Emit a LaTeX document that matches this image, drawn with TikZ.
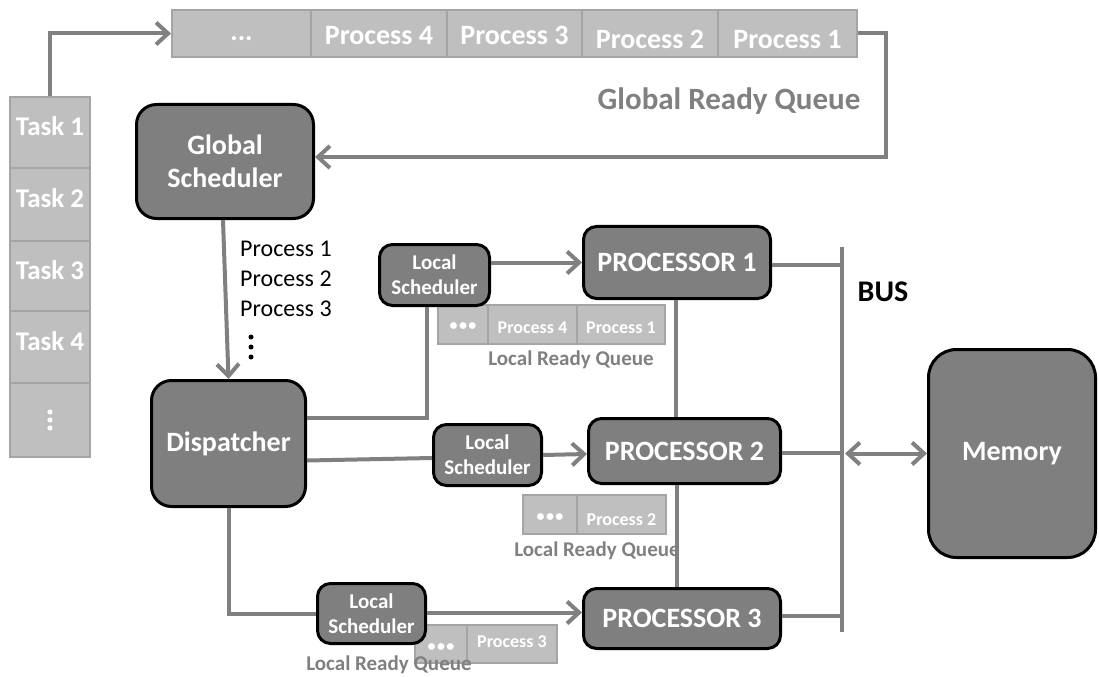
\documentclass[tikz,border=0pt]{standalone}
\usepackage{fontspec}
\setmainfont{Carlito}
\usetikzlibrary{arrows.meta,calc}
\definecolor{boxgray}{HTML}{7F7F7F}
\definecolor{cellgray}{HTML}{BFBFBF}
\definecolor{cellline}{HTML}{A5A5A5}
\definecolor{linegray}{HTML}{808080}
\newcommand\fsz[2]{\fontsize{#1bp}{#2bp}\selectfont}
\newcommand\bullets{•\kern1.5bp•\kern1.5bp•}
\tikzset{
  darkbox/.style={draw=black, line width=3bp, fill=boxgray, text=white,
    font=\bfseries, align=center, inner sep=0pt, rounded corners=13bp},
  cell/.style={draw=cellline, line width=2bp, fill=cellgray, text=white,
    font=\bfseries, inner sep=0pt},
  % text height/depth pairs that move the text inside a cell
  tshift/.style 2 args={text height=#1bp, text depth=#2bp},
  conn/.style={draw=linegray, line width=4bp},
  barb/.tip={Straight Barb[length=12bp, width=22bp]},
  arr/.style={conn, -barb},
  dblarr/.style={conn, barb-barb},
  qlabel/.style={text=linegray, font=\bfseries, inner sep=0pt},
}
\begin{document}
\begin{tikzpicture}[x=1bp, y=-1bp]
\useasboundingbox (0,0) rectangle (1099,677);

% task column
\begin{scope}[every node/.style={cell, minimum width=80bp, font=\bfseries\fsz{27}{32}, tshift={17}{10}}]
  \node[minimum height=71bp] (t1) at (50,132.5) {Task 1};
  \node[minimum height=73bp] (t2) at (50,204.5) {Task 2};
  \node[minimum height=70bp] (t3) at (50,276) {Task 3};
  \node[minimum height=72bp] (t4) at (50,347) {Task 4};
  \node[minimum height=74bp] (t5) at (50,420) {};
\end{scope}
\fill[white] (t5.center) circle (2.6) ++(0,-8) circle (2.6) ++(0,16) circle (2.6);

% global ready queue
\begin{scope}[every node/.style={cell, minimum height=47bp, font=\bfseries\fsz{28}{32}}]
  \node[minimum width=139bp, tshift={14}{0}] (gq0) at (241.5,33.5) {...};
  \node[minimum width=136bp, tshift={22}{0}] (gq1) at (379,33.5) {Process 4};
  \node[minimum width=135bp, tshift={22}{0}] (gq2) at (514.5,33.5) {Process 3};
  \node[minimum width=136bp, tshift={31}{0}] (gq3) at (650,33.5) {Process 2};
  \node[minimum width=139bp, tshift={31}{0}] (gq4) at (787.5,33.5) {Process 1};
\end{scope}
\node[qlabel, font=\bfseries\fsz{31}{36}] (gqlabel) at (729,101) {Global Ready Queue};

% local ready queues
\begin{scope}[every node/.style={cell, font=\bfseries\fsz{18}{21}}]
  \node[minimum width=50bp, minimum height=39bp, tshift={12}{0}, font=\bfseries\fsz{16}{20}] (lq1a) at (463,324.5) {\bullets};
  \node[minimum width=89bp, minimum height=39bp, tshift={18}{0}] (lq1b) at (532.5,324.5) {Process 4};
  \node[minimum width=88bp, minimum height=39bp, tshift={18}{0}] (lq1c) at (621,324.5) {Process 1};
  \node[minimum width=54bp, minimum height=39bp, tshift={13}{0}, font=\bfseries\fsz{16}{20}] (lq2a) at (550,514.5) {\bullets};
  \node[minimum width=89bp, minimum height=39bp, tshift={21}{0}] (lq2b) at (621.5,514.5) {Process 2};
  \node[minimum width=52bp, minimum height=38bp, tshift={15}{0}, font=\bfseries\fsz{16}{20}] (lq3a) at (441,644) {\bullets};
  \node[minimum width=90bp, minimum height=38bp, tshift={6}{0}] (lq3b) at (512,644) {Process 3};
\end{scope}
\node[qlabel, font=\bfseries\fsz{21}{24}] (lql1) at (571,360) {Local Ready Queue};
\node[qlabel, font=\bfseries\fsz{21}{24}] (lql2) at (597,551) {Local Ready Queue};
\node[qlabel, font=\bfseries\fsz{21}{24}] (lql3) at (389,665) {Local Ready Queue};

% schedulers, dispatcher, processors, memory
\node[darkbox, rounded corners=20bp, minimum width=177bp, minimum height=114bp, font=\bfseries\fsz{28}{33}] (gs) at (225,161.5) {Global\\Scheduler};
\node[darkbox, rounded corners=20bp, minimum width=154bp, minimum height=126bp, font=\bfseries\fsz{28}{33}] (disp) at (228.5,443.5) {Dispatcher};
\node[darkbox, minimum width=110bp, minimum height=61bp, font=\bfseries\fsz{21}{25}] (ls1) at (434.5,275) {Local\\Scheduler};
\node[darkbox, minimum width=108bp, minimum height=61bp, font=\bfseries\fsz{21}{25}] (ls2) at (487.5,455) {Local\\Scheduler};
\node[darkbox, minimum width=108bp, minimum height=60bp, font=\bfseries\fsz{21}{25}] (ls3) at (371.5,613.5) {Local\\Scheduler};
\node[darkbox, minimum width=187bp, minimum height=72bp, font=\bfseries\fsz{28}{33}] (p1) at (677,262.5) {PROCESSOR 1};
\node[darkbox, minimum width=192bp, minimum height=65bp, font=\bfseries\fsz{28}{33}] (p2) at (684.5,451) {PROCESSOR 2};
\node[darkbox, minimum width=197bp, minimum height=60bp, font=\bfseries\fsz{28}{33}] (p3) at (682,618.5) {PROCESSOR 3};
\node[darkbox, rounded corners=28bp, minimum width=167bp, minimum height=208bp, font=\bfseries\fsz{28}{33}] (mem) at (1012,453.5) {Memory};

% list of processes handed to the dispatcher
\node[anchor=north west, align=left, inner sep=0pt, font=\fsz{24}{30}] (plist) at (240,241) {Process 1\\Process 2\\Process 3};
\fill (251,337) circle (2.5) (251,347) circle (2.5) (251,357) circle (2.5);

% bus
\coordinate (bustop) at (842,247);
\coordinate (busbot) at (842,632);
\draw[conn] (bustop) -- (busbot);
\node[font=\bfseries\fsz{30}{34}, inner sep=0pt] (buslabel) at (883,292) {BUS};

% connectors
\draw[arr] (t1.north) |- (gq0.west);
\draw[arr] (gq4.east) -- ++(28,0) |- ($(gs.east)+(0,-4.5)$);
\draw[arr] ($(gs.south)+(-2,0)$) -- (disp.north);
\draw[conn] ($(disp.east)+(0,-25.5)$) -| ($(ls1.south)+(-7.5,0)$);
\draw[conn] ($(disp.east)+(0,17)$) -- ($(ls2.west)+(0,3)$);
\draw[conn] (disp.south) |- (ls3.west);
\draw[arr] (ls1.east |- p1.west) -- (p1.west);
\draw[arr] (ls2.east) -- ($(p2.west)+(0,3)$);
\draw[arr] ($(ls3.east)+(0,-1)$) -- ($(ls3.east -| p3.west)+(0,-1)$);
\draw[conn] ($(p1.south)+(-1,0)$) -- ($(p2.north -| p1.south)+(-1,0)$);
\draw[conn] (p2.south -| p1.south) -- (p3.north -| p1.south);
\draw[conn] ($(p1.east)+(0,2.5)$) -- ($(p1.east -| bustop)+(0,2.5)$);
\draw[conn] ($(p2.east)+(0,2)$) -- ($(p2.east -| bustop)+(0,2)$);
\draw[conn] ($(p3.east)+(0,-3)$) -- ($(p3.east -| bustop)+(0,-3)$);
\draw[dblarr] ($(mem.west -| bustop)+(3,0)$) -- (mem.west);
\end{tikzpicture}
\end{document}
